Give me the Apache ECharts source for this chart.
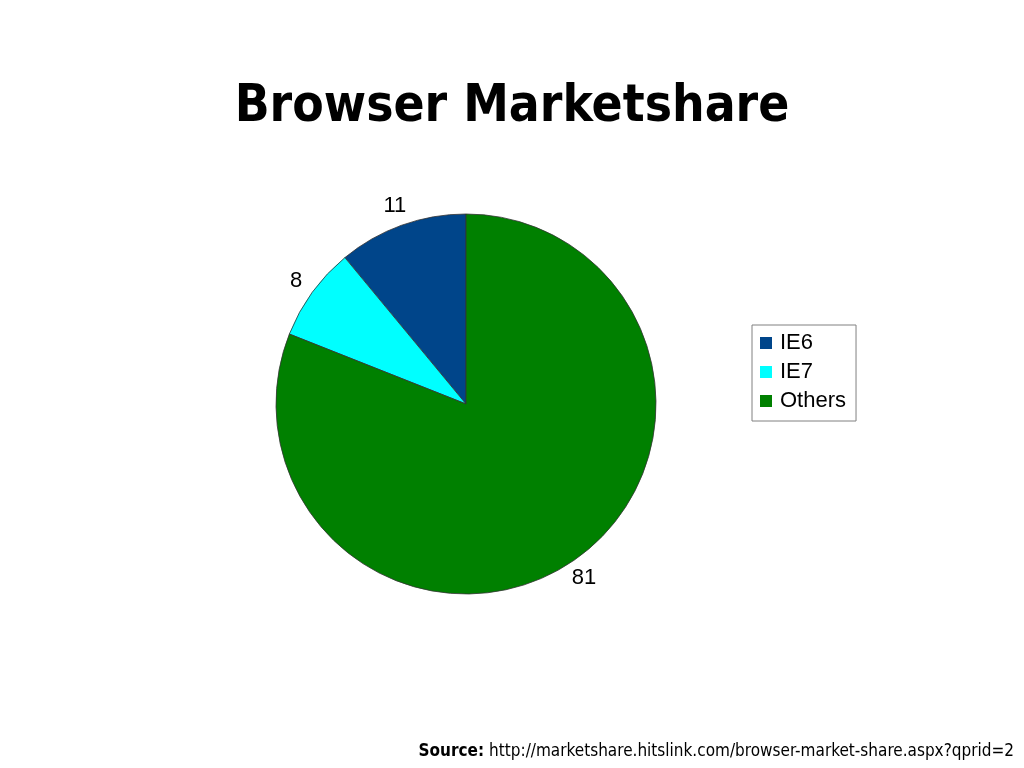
<!DOCTYPE html>
<html><head><meta charset="utf-8">
<script src="https://cdn.jsdelivr.net/npm/echarts@6/dist/echarts.min.js"></script>
<style>html,body{margin:0;padding:0;background:#fff}#c{width:1024px;height:768px}</style>
</head><body><div id="c"></div>
<script>
const categories = ['IE6', 'IE7', 'Others'];
const values = [11, 8, 81];
const colors = ['#00458A', '#00FFFF', '#008000'];
const titleText = 'Browser Marketshare';
const sourceLabel = 'Source:';
const sourceUrl = 'http://marketshare.hitslink.com/browser-market-share.aspx?qprid=2';

const data = categories.map((n, i) => ({ name: n, value: values[i], itemStyle: { color: colors[i] } }));
const chart = echarts.init(document.getElementById('c'), null, { renderer: 'canvas' });
chart.setOption({
  animation: false,
  title: [
    { text: titleText, left: 'center', top: 77,
      textStyle: { fontFamily: 'DejaVu Sans Condensed', fontWeight: 'bold', fontSize: 51, color: '#000' } },
    { text: '{b|' + sourceLabel + '} {n|' + sourceUrl + '}', right: 5, top: 738,
      textStyle: { fontWeight: 'normal', rich: {
        b: { fontFamily: 'DejaVu Sans Condensed', fontWeight: 'bold', fontSize: 17, color: '#000' },
        n: { fontFamily: 'DejaVu Sans Condensed', fontWeight: 'normal', fontSize: 17, color: '#000' } } } }
  ],
  legend: {
    orient: 'vertical', left: 752, top: 325,
    data: categories,
    itemWidth: 12, itemHeight: 12, itemGap: 7,
    padding: [7, 10, 9, 8],
    borderColor: '#808080', borderWidth: 1,
    icon: 'rect',
    itemStyle: { borderWidth: 0 },
    textStyle: { fontFamily: 'Liberation Sans', fontSize: 22, color: '#000', lineHeight: 22, padding: [0, 0, 0, 3] }
  },
  series: [
    { type: 'pie', center: [466, 404], radius: 190, startAngle: 90, clockwise: false,
      data: data, label: { show: false }, labelLine: { show: false },
      itemStyle: { borderColor: '#333', borderWidth: 0.8 }, emphasis: { disabled: true } },
    { type: 'pie', center: [466, 404], radius: [196, 218], startAngle: 90, clockwise: false,
      data: categories.map((n, i) => ({ name: n, value: values[i] })),
      itemStyle: { color: 'rgba(0,0,0,0)', borderWidth: 0 },
      label: { show: true, position: 'inside', formatter: '{c}', color: '#000',
               fontFamily: 'Liberation Sans', fontSize: 22 },
      labelLine: { show: false }, silent: true, emphasis: { disabled: true },
      labelLayout: { hideOverlap: false } }
  ]
});
</script></body></html>
